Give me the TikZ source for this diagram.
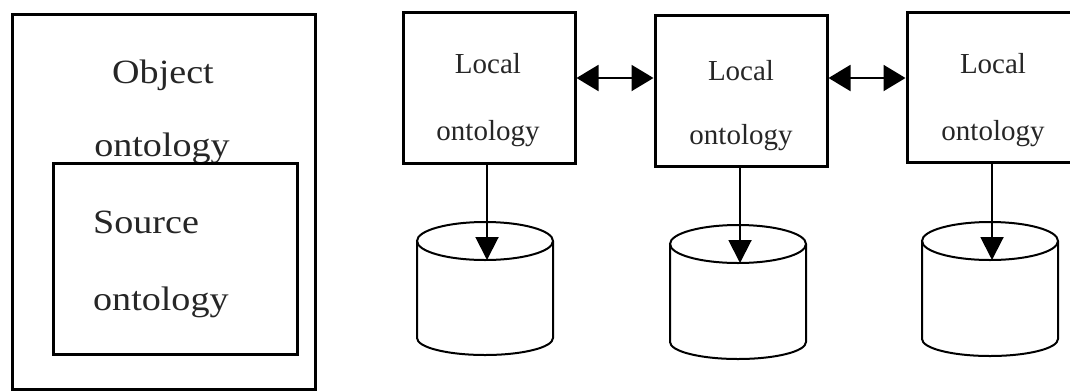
\documentclass[tikz,border=0pt]{standalone}
\usepackage{fontspec}
\setmainfont{Liberation Serif}
\newfontfamily\widefont[FakeStretch=1.12]{Liberation Serif}
\usetikzlibrary{arrows.meta}

\tikzset{
  frame/.style={draw=black, line width=3pt, fill=none, inner sep=0pt},
  bigtext/.style={anchor=base, inner sep=0pt, text=black!85, font=\widefont\fontsize{34}{40}\selectfont},
  loctext/.style={anchor=base, inner sep=0pt, text=black!85, font=\fontsize{29}{34}\selectfont},
  link/.style={line width=2pt, {Triangle[length=22pt,width=26pt]}-{Triangle[length=22pt,width=26pt]}},
  feed/.style={line width=2pt, -{Triangle[length=23pt,width=23pt]}},
  drum/.style={draw=black, line width=2pt}
}

\begin{document}
\begin{tikzpicture}[x=1pt, y=-1pt]
  \useasboundingbox (0,0) rectangle (1070,391);

  % object ontology enclosing the source ontology
  \node[frame, minimum width=303pt, minimum height=375pt] (obj) at (163.5,201.5) {};
  \node[bigtext] (objA) at (163,83) {Object};
  \node[bigtext] (objB) at (162,156) {ontology};
  \node[frame, fill=white, minimum width=244pt, minimum height=191pt] (src) at (175,258.5) {};
  \node[bigtext, anchor=base west] (srcA) at (93,233) {Source};
  \node[bigtext, anchor=base west] (srcB) at (93,310) {ontology};

  % local ontologies
  \node[frame, minimum width=172pt, minimum height=151pt] (l1) at (489,87.5) {};
  \node[frame, minimum width=172pt, minimum height=151pt] (l2) at (741,90.5) {};
  \node[frame, minimum width=172pt, minimum height=150pt] (l3) at (993,87) {};

  \node[loctext] (l1a) at (488,73) {Local};
  \node[loctext] (l1b) at (488,140) {ontology};
  \node[loctext] (l2a) at (741,80) {Local};
  \node[loctext] (l2b) at (741,144) {ontology};
  \node[loctext] (l3a) at (993,73) {Local};
  \node[loctext] (l3b) at (993,140) {ontology};

  % links between neighbouring local ontologies
  \draw[link] (l1.east |- 0,78) -- (l2.west |- 0,78);
  \draw[link] (l2.east |- 0,78) -- (l3.west |- 0,78);

  % data sources drawn as cylinders
  \foreach \cx/\cy/\by [count=\i] in {485/241/338, 738/244/342, 990/241/339}{
    \draw[drum] (\cx,\cy) ellipse [x radius=68pt, y radius=19pt];
    \draw[drum] (\cx-68,\cy) -- (\cx-68,\by)
      arc [start angle=180, end angle=360, x radius=68pt, y radius=17pt]
      -- (\cx+68,\cy);
    \coordinate (d\i) at (\cx+2,\cy+19);
  }

  % each local ontology feeds its source
  \draw[feed] (d1 |- l1.south) -- (d1);
  \draw[feed] (d2 |- l2.south) -- (d2);
  \draw[feed] (d3 |- l3.south) -- (d3);
\end{tikzpicture}
\end{document}
